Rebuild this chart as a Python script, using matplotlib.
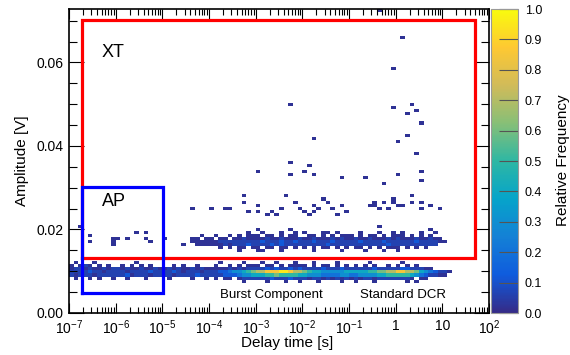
import numpy as np
import matplotlib
matplotlib.use("Agg")
import matplotlib.pyplot as plt
from matplotlib.colors import LinearSegmentedColormap
from matplotlib.ticker import MultipleLocator, FixedLocator, LogLocator, NullFormatter

plt.rcParams['font.family'] = ['Liberation Sans', 'DejaVu Sans']
plt.rcParams['mathtext.fontset'] = 'custom'
plt.rcParams['mathtext.rm'] = 'Liberation Sans'
plt.rcParams['mathtext.it'] = 'Liberation Sans:italic'

# histogram binning: log10(delay) in 0.1 decade steps, amplitude in 100 bins
log_t_lo, log_t_hi, n_t = -7.0, 2.0, 90
amp_hi, n_amp = 0.0728, 100

# relative frequency per character
levels = {'.': 0.0, '1': 0.02, '2': 0.06, '3': 0.12, '4': 0.2, '5': 0.3, '6': 0.4,
          '7': 0.5, '8': 0.6, '9': 0.7, 'A': 0.85, 'B': 0.95}

# dense bands: amplitude bin -> one char per delay bin (10 per decade, from 1e-7)
band_dcr = {
    16: "|.1...1....|....1.....|..........|..1....1..|.1..1...1.|..1....1..|....1.....|.1........|..........",
    15: "|1.121.1.1.|.1.1.1.1..|..1.1..1..|.1..1.1.11|1.11.1.111|1.1.11.1.1|.1.1.1..1.|1.1.1.....|..........",
    14: "|1221211212|2121121121|1212112121|1111212122|2232322323|2222322232|2222232222|23322211..|..........",
    13: "|2222322122|2212222322|2232122212|2233455678|99AAABBA99|8766555556|6666778899|AA99865432|21........",
    12: "|2122212222|2231222122|2212222322|2223334556|6677877776|6555444455|4455556677|7776543221|1.........",
    11: "|.1..1.1..1|..1...1...|.1....1..1|.1.11.1222|2223222322|2122121212|1212212222|2221.11...|..........",
    10: "|..........|..........|..........|.......1..|..1...1..1|...1....1.|.1...1....|..1.1.....|..........",
}

band_xt = {
    26: "|..........|..........|..........|........1.|.1...1..1.|1...1..1..|..1...1..1|.1...1..1.|..........",
    25: "|..........|..........|........1.|.1..1.1.11|1.11.1.11.|.11.1.1.11|1.1.11.1.1|11.1.1.1..|..........",
    24: "|..........|..........|......11.1|1.11.11211|1121121112|1121112121|1211211121|2111211211|..........",
    23: "|..........|..........|......1111|1122222222|2322232232|2232223222|2232222322|2222322221|1.........",
    22: "|..........|..........|.......111|1112122232|2223232222|2222232222|2222222232|222222222.|..........",
    21: "|..........|..........|..........|..1.1.11.1|1.11.11.1.|1.1.11.1.1|.11.1.1.11|1.1.1.1...|..........",
    20: "|..........|..........|..........|......1...|.1...1....|..1.....1.|...1...1..|1.........|..........",
}

# isolated entries: (log10 delay [s], amplitude [V])
points_ap = [(-6.70, 0.0206), (-6.53, 0.0187), (-6.53, 0.0172), (-6.08, 0.0163), (-6.08, 0.0172),
             (-6.08, 0.0180), (-5.91, 0.0175), (-5.71, 0.0175), (-5.52, 0.0194), (-5.35, 0.0194),
             (-5.31, 0.0180), (-5.26, 0.0168), (-4.94, 0.0177), (-4.51, 0.0163)]

points_3pe = [(-4.34, 0.0249), (-3.98, 0.0249), (-3.61, 0.0249), (-3.51, 0.0249), (-3.29, 0.0278),
              (-3.21, 0.0264), (-3.16, 0.0242), (-2.95, 0.0256), (-2.91, 0.0244), (-2.80, 0.0235),
              (-2.63, 0.0242), (-2.54, 0.0235), (-2.44, 0.0249), (-2.37, 0.0278), (-2.16, 0.0264),
              (-2.09, 0.0251), (-1.90, 0.0242), (-1.77, 0.0259), (-1.77, 0.0247), (-1.84, 0.0237),
              (-1.66, 0.0251), (-1.56, 0.0271), (-1.47, 0.0263), (-1.36, 0.0251), (-1.28, 0.0237),
              (-1.13, 0.0256), (-1.19, 0.0256), (-1.04, 0.0247), (-0.55, 0.0259), (-0.44, 0.0259),
              (-0.49, 0.0263), (-0.38, 0.0251), (-0.27, 0.0263), (-0.19, 0.0251), (-0.10, 0.0271),
              (-0.01, 0.0263), (0.09, 0.0259), (0.16, 0.0259), (0.33, 0.0278), (0.35, 0.0263),
              (0.52, 0.0263), (0.59, 0.0251), (0.78, 0.0256), (0.95, 0.0251),
              (-2.97, 0.0199), (-2.26, 0.0199), (-1.41, 0.0194), (-0.76, 0.0192), (-0.38, 0.0206),
              (0.78, 0.0199), (-2.95, 0.0151)]

points_high = [(-2.97, 0.0338), (-2.26, 0.0359), (-2.26, 0.0331), (-1.81, 0.0352), (-1.90, 0.0338),
               (-1.73, 0.0331), (-1.11, 0.0323), (-0.66, 0.0323), (-0.29, 0.0309), (0.05, 0.0331),
               (0.50, 0.0338), (0.50, 0.0316), (0.16, 0.0659), (-0.10, 0.0587), (-2.20, 0.0498),
               (-0.10, 0.0491), (0.35, 0.0498), (0.44, 0.0484), (0.24, 0.0477), (0.52, 0.0455),
               (-1.73, 0.0419), (0.24, 0.0426), (0.05, 0.0410), (0.44, 0.0381), (-0.38, 0.0724)]

# annotation boxes (log10 delay, amplitude)
box_xt = (-6.73, 1.70, 0.0131, 0.0702)
box_ap = (-6.73, -4.98, 0.0049, 0.0302)

# fill histogram
H = np.zeros((n_amp, n_t))
for band in (band_dcr, band_xt):
    for r, s in band.items():
        s = s.replace('|', '')
        for c, ch in enumerate(s):
            H[r, c] = max(H[r, c], levels[ch])
dt = (log_t_hi - log_t_lo) / n_t
da = amp_hi / n_amp
for lt, a in points_ap + points_3pe + points_high:
    c = int((lt - log_t_lo) / dt)
    r = int(a / da)
    H[r, c] = max(H[r, c], 0.02)

xedges = 10 ** np.linspace(log_t_lo, log_t_hi, n_t + 1)
yedges = np.linspace(0, amp_hi, n_amp + 1)

# ROOT kBird palette
stops = [0.0, 0.125, 0.25, 0.375, 0.5, 0.625, 0.75, 0.875, 1.0]
red = [0.2082, 0.0592, 0.0780, 0.0232, 0.1802, 0.5301, 0.8186, 0.9956, 0.9764]
green = [0.1664, 0.3599, 0.5041, 0.6419, 0.7178, 0.7492, 0.7328, 0.7862, 0.9832]
blue = [0.5293, 0.8684, 0.8385, 0.7914, 0.6425, 0.4662, 0.3499, 0.1968, 0.0539]
bird = LinearSegmentedColormap.from_list('bird', list(zip(stops, zip(red, green, blue))))

fig = plt.figure(figsize=(5.7, 3.55), dpi=100)
ax = fig.add_axes([69 / 570, 42 / 355, 420 / 570, 304 / 355])
cax = fig.add_axes([491 / 570, 42 / 355, 27 / 570, 304 / 355])

mesh = ax.pcolormesh(xedges, yedges, np.ma.masked_equal(H, 0), cmap=bird, vmin=0, vmax=1)
ax.set_xscale('log')
ax.set_xlim(1e-7, 1e2)
ax.set_ylim(0, amp_hi)

for (x0, x1, y0, y1), col in ((box_xt, 'red'), (box_ap, 'blue')):
    ax.plot([10 ** x0, 10 ** x1, 10 ** x1, 10 ** x0, 10 ** x0], [y0, y0, y1, y1, y0],
            color=col, lw=2.3, solid_joinstyle='miter')

ax.text(10 ** -6.3, 0.0625, 'XT', fontsize=13, va='center')
ax.text(10 ** -6.3, 0.0268, 'AP', fontsize=13, va='center')
ax.text(10 ** -3.76, 0.0043, 'Burst Component', fontsize=9.5, va='center')
ax.text(10 ** -0.76, 0.0043, 'Standard DCR', fontsize=9.5, va='center')

xt_labels = ['$10^{-7}$', '$10^{-6}$', '$10^{-5}$', '$10^{-4}$', '$10^{-3}$',
             '$10^{-2}$', '$10^{-1}$', '1', '10', '$10^{2}$']
ax.xaxis.set_major_locator(FixedLocator(10.0 ** np.arange(-7, 3)))
ax.set_xticklabels(xt_labels, fontsize=10)
ax.xaxis.set_minor_locator(LogLocator(base=10, subs=np.arange(2, 10), numticks=30))
ax.xaxis.set_minor_formatter(NullFormatter())
ax.yaxis.set_major_locator(MultipleLocator(0.02))
ax.yaxis.set_minor_locator(MultipleLocator(0.005))
ax.set_yticks([0, 0.02, 0.04, 0.06])
ax.set_yticklabels(['0.00', '0.02', '0.04', '0.06'], fontsize=10)
ax.tick_params(axis='x', which='major', direction='in', top=True, length=7, width=0.8, pad=4)
ax.tick_params(axis='x', which='minor', direction='in', top=True, length=4, width=0.8)
ax.tick_params(axis='y', which='major', direction='in', right=True, length=11, width=0.8, pad=4)
ax.tick_params(axis='y', which='minor', direction='in', right=True, length=6, width=0.8)
for sp in ax.spines.values():
    sp.set_linewidth(1.2)

ax.set_ylabel('Amplitude [V]', fontsize=11, labelpad=5)
fig.text(287 / 570, 12 / 355, 'Delay time [s]', fontsize=11, ha='center', va='center')

cb = fig.colorbar(mesh, cax=cax)
cb.set_ticks(np.arange(0, 1.01, 0.1))
cb.set_ticklabels(['%.1f' % v for v in np.arange(0, 1.01, 0.1)])
cax.tick_params(direction='in', length=14, width=0.8, labelsize=9, pad=5, color='#555555')
cb.outline.set_edgecolor('#999999')
cb.outline.set_linewidth(0.8)
fig.text(563 / 570, 195 / 355, 'Relative Frequency', fontsize=11, rotation=90,
         ha='center', va='center')

fig.savefig('out.png', dpi=100)
